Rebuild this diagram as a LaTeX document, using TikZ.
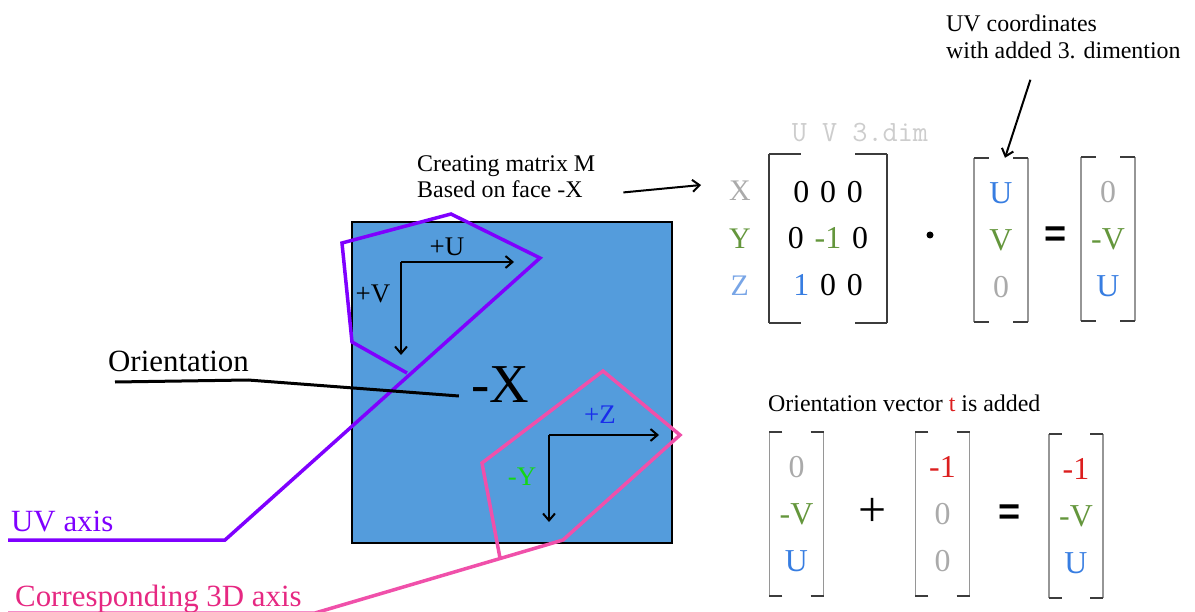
\documentclass[tikz,border=0pt]{standalone}
\usepackage{fontspec}
\setmainfont{Liberation Serif}
\setsansfont{Liberation Sans}
\usepackage{tikz}
\usetikzlibrary{arrows.meta,positioning,calc}
\usepackage{xcolor}
\definecolor{face}{RGB}{84,156,220}
\definecolor{uvcol}{RGB}{127,0,255}
\definecolor{axcol}{RGB}{240,80,170}
\definecolor{axtxt}{RGB}{230,40,130}
\definecolor{lgray}{RGB}{170,170,170}
\definecolor{hgray}{RGB}{205,205,205}
\definecolor{vgreen}{RGB}{100,150,60}
\definecolor{ublue}{RGB}{55,125,225}
\definecolor{zblue}{RGB}{120,165,230}
\definecolor{tred}{RGB}{220,30,30}
\definecolor{pzblue}{RGB}{25,45,235}
\definecolor{mygreen}{RGB}{20,215,20}
\definecolor{brk}{RGB}{60,60,60}
\definecolor{brv}{RGB}{150,150,150}
\tikzset{
  txt/.style={inner sep=0pt,align=left,font=\rmfamily\fontsize{24}{26.5}\selectfont},
  lab/.style={inner sep=0pt,font=\rmfamily\fontsize{31}{31}\selectfont},
  vec/.style={inner sep=0pt,align=center,minimum width=54bp,minimum height=164bp,
    font=\rmfamily\fontsize{32}{47}\selectfont},
  axl/.style={inner sep=0pt,font=\rmfamily\fontsize{27}{27}\selectfont},
  op/.style={inner sep=0pt,font=\sffamily\bfseries\fontsize{38}{38}\selectfont},
  arr/.style={-{Straight Barb[length=7pt,width=12pt]},line width=2bp},
  hull/.style={line width=3.5bp,line join=miter},
}
\newcommand{\brackets}[3][brv]{%
  \draw[line width=1.5bp,#1] (#2.north west) -- (#2.south west)
    (#2.north east) -- (#2.south east);
  \draw[line width=2bp,brk] ([xshift=#3]#2.north west) -- (#2.north west)
    ([xshift=#3]#2.south west) -- (#2.south west)
    ([xshift=-#3]#2.north east) -- (#2.north east)
    ([xshift=-#3]#2.south east) -- (#2.south east);}
\newcommand{\gap}{\hspace{0.34em}}

\begin{document}
\begin{tikzpicture}[x=1bp,y=-1bp]
  \useasboundingbox (0,0) rectangle (1195,612);
  \draw[fill=face,line width=2.5bp] (352,222) rectangle (672,543);
  \node[inner sep=2bp,font=\rmfamily\fontsize{55}{55}\selectfont] (mx) at (500,385) {-X};

  \coordinate (u1) at (342,243);
  \coordinate (u2) at (451,214);
  \coordinate (u3) at (540,258);
  \coordinate (u4) at (407,373);
  \coordinate (u5) at (352,342);
  \coordinate (uk) at (225,540);
  \coordinate (ue) at (8,540);
  \draw[hull,uvcol] (ue) -- (uk) -- (u3) -- (u2) -- (u1) -- (u5) -- (u4);
  \coordinate (uo) at (401,262);
  \coordinate (ut) at (514,262);
  \coordinate (vt) at (401,355);
  \draw[arr] (uo) -- (ut);
  \draw[arr] (uo) -- (vt);
  \node[axl] (lu) at (447,247) {+U};
  \node[axl] (lv) at (373,294) {+V};

  \coordinate (p1) at (603,371);
  \coordinate (p2) at (680,435);
  \coordinate (p3) at (563,540);
  \coordinate (p4) at (500,558);
  \coordinate (p5) at (482,463);
  \coordinate (pk) at (315,613);
  \coordinate (pe) at (8,613);
  \draw[hull,axcol] (pe) -- (pk) -- (p3) -- (p2) -- (p1) -- (p5) -- (p4);
  \coordinate (zo) at (549,435);
  \coordinate (zt) at (659,435);
  \coordinate (yt) at (549,522);
  \draw[arr] (zo) -- (zt);
  \draw[arr] (zo) -- (yt);
  \node[axl,text=pzblue] (lz) at (600,415) {+Z};
  \node[axl,text=mygreen] (ly) at (522,477) {-Y};

  \node[lab,anchor=base west] (orl) at (108,371) {Orientation};
  \coordinate (o1) at (115,382);
  \coordinate (o2) at (248,380);
  \draw[line width=3bp] (o1) -- (o2) -- ([xshift=-10bp,yshift=-11bp]mx.west);
  \node[lab,anchor=base west,text=uvcol] (uvl) at (11,531) {UV axis};
  \node[lab,anchor=base west,text=axtxt] (axl) at (15,606) {Corresponding 3D axis};

  \node[txt,anchor=north west] (crm) at (417,155) {Creating matrix M\\Based on face -X};
  \coordinate (mtip) at (701,185);
  \draw[arr] ([xshift=28bp,yshift=-16bp]crm.east) -- (mtip);

  \node[vec,minimum width=118bp,minimum height=169bp] (M) at (828,238.5)
    {0\gap0\gap0\\0\gap\textcolor{vgreen}{-1}\gap0\\\textcolor{ublue}{1}\gap0\gap0};
  \node[inner sep=0pt,align=center,font=\rmfamily\fontsize{30}{47.5}\selectfont,left=18bp of M] (rl)
    {\textcolor{lgray}{X}\\\textcolor{vgreen}{Y}\\\textcolor{zblue}{Z}};
  \node[inner sep=0pt,text=hgray,font=\ttfamily\fontsize{29.5}{29.5}\selectfont] (hdr) at (860,133) {U V 3.dim};
  \brackets[brk]{M}{32bp}

  \node[circle,fill=black,inner sep=0pt,minimum size=7bp] (dot) at (930,235) {};
  \node[vec] (vuv) at (1001,240)
    {\textcolor{ublue}{U}\\\textcolor{vgreen}{V}\\\textcolor{lgray}{0}};
  \brackets{vuv}{15bp}
  \node[op] (eq1) at (1056,237) {=};
  \node[vec] (vr) at (1108,239)
    {\textcolor{lgray}{0}\\\textcolor{vgreen}{-V}\\\textcolor{ublue}{U}};
  \brackets{vr}{15bp}

  \node[txt,anchor=north west] (uvc) at (946,15) {UV coordinates\\with added 3. dimention};
  \draw[arr] ([xshift=-33bp,yshift=-21bp]uvc.south) -- ([xshift=4bp]vuv.north);

  \node[txt,anchor=base west] (ovt) at (768,411) {Orientation vector \textcolor{tred}{t} is added};
  \node[vec] (va) at (796.5,514)
    {\textcolor{lgray}{0}\\\textcolor{vgreen}{-V}\\\textcolor{ublue}{U}};
  \brackets{va}{13bp}
  \node[inner sep=0pt,font=\rmfamily\fontsize{50}{50}\selectfont] (pl) at (873,512) {+};
  \node[vec] (vb) at (942.5,514)
    {\textcolor{tred}{-1}\\\textcolor{lgray}{0}\\\textcolor{lgray}{0}};
  \brackets{vb}{13bp}
  \node[op] (eq2) at (1010,515) {=};
  \node[vec] (vc) at (1076,516)
    {\textcolor{tred}{-1}\\\textcolor{vgreen}{-V}\\\textcolor{ublue}{U}};
  \brackets{vc}{13bp}
\end{tikzpicture}
\end{document}
